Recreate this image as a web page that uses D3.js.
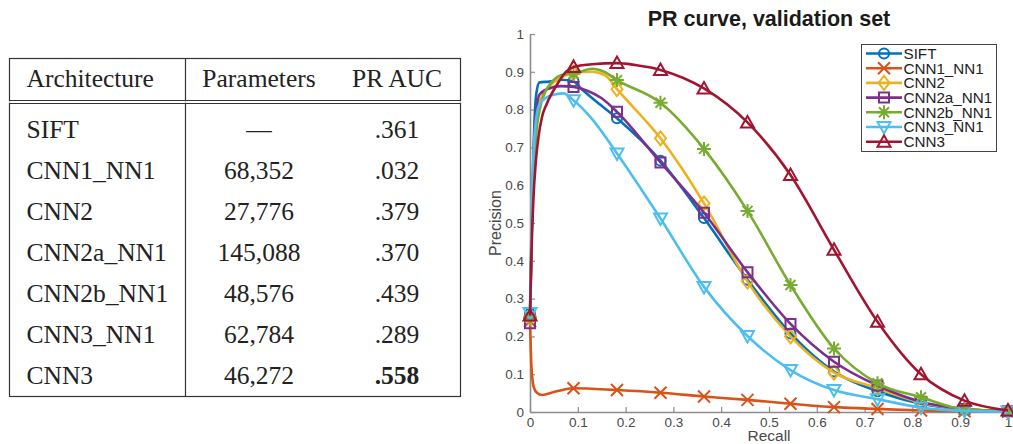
<!DOCTYPE html>
<html>
<head>
<meta charset="utf-8">
<script src="https://cdn.jsdelivr.net/npm/d3@7"></script>
<style>
  body { margin: 0; background: #fff; }
  svg { display: block; }
</style>
</head>
<body>
<svg id="fig" width="1013" height="444"></svg>
<script>
// ---- table data
const architectures = ['SIFT', 'CNN1_NN1', 'CNN2', 'CNN2a_NN1', 'CNN2b_NN1', 'CNN3_NN1', 'CNN3'];
const parameters = ['\u2014', '68,352', '27,776', '145,088', '48,576', '62,784', '46,272'];
const prAuc = [0.361, 0.032, 0.379, 0.370, 0.439, 0.289, 0.558];
const headers = ['Architecture', 'Parameters', 'PR AUC'];

// ---- PR curves (recall where the markers sit, precision)
const markerRecall = [0, 0.091, 0.182, 0.273, 0.364, 0.455, 0.545, 0.636, 0.727, 0.818, 0.909, 1];

const siftMarks   = [0.26, 0.875, 0.777, 0.665, 0.513, 0.35, 0.208, 0.107, 0.055, 0.022, 0.007, 0.002];
const cnn1Marks   = [0.24, 0.063, 0.058, 0.051, 0.041, 0.032, 0.022, 0.013, 0.008, 0.004, 0.002, 0.001];
const cnn2Marks   = [0.25, 0.897, 0.854, 0.724, 0.552, 0.345, 0.2, 0.104, 0.063, 0.025, 0.007, 0.002];
const cnn2aMarks  = [0.235, 0.86, 0.794, 0.66, 0.527, 0.37, 0.233, 0.133, 0.07, 0.027, 0.008, 0.002];
const cnn2bMarks  = [0.25, 0.895, 0.878, 0.818, 0.696, 0.532, 0.336, 0.168, 0.076, 0.039, 0.007, 0.002];
const cnn3nnMarks = [0.262, 0.825, 0.684, 0.512, 0.331, 0.201, 0.111, 0.058, 0.034, 0.012, 0.003, 0.001];
const cnn3Marks   = [0.255, 0.913, 0.923, 0.905, 0.856, 0.766, 0.627, 0.429, 0.239, 0.10, 0.03, 0.004];

// points between the markers (mostly the steep start)
const siftExtra   = [[0.004, 0.5], [0.008, 0.72], [0.013, 0.84], [0.02, 0.872], [0.04, 0.874], [0.065, 0.879], [0.105, 0.858], [0.14, 0.82]];
const cnn1Extra   = [[0.003, 0.12], [0.008, 0.065], [0.015, 0.05], [0.025, 0.045], [0.05, 0.053], [0.07, 0.059]];
const cnn2Extra   = [[0.004, 0.55], [0.01, 0.74], [0.02, 0.82], [0.04, 0.86], [0.065, 0.885], [0.13, 0.9], [0.158, 0.89]];
const cnn2aExtra  = [[0.004, 0.5], [0.01, 0.75], [0.02, 0.84], [0.04, 0.856], [0.065, 0.862], [0.12, 0.85], [0.15, 0.83]];
const cnn2bExtra  = [[0.004, 0.5], [0.012, 0.72], [0.022, 0.81], [0.032, 0.847], [0.045, 0.872], [0.07, 0.893], [0.13, 0.908], [0.155, 0.9]];
const cnn3nnExtra = [[0.004, 0.55], [0.01, 0.74], [0.02, 0.815], [0.045, 0.838], [0.07, 0.843], [0.13, 0.775]];
const cnn3Extra   = [[0.003, 0.42], [0.007, 0.56], [0.012, 0.66], [0.018, 0.73], [0.025, 0.78], [0.035, 0.815], [0.056, 0.865], [0.075, 0.9], [0.13, 0.92], [0.22, 0.918]];

const seriesColors = ['#0072BD', '#D95319', '#EDB120', '#7E2F8E', '#77AC30', '#4DBEEE', '#A2142F'];
const seriesMarkers = ['circle', 'x', 'diamond', 'square', 'star', 'tridown', 'triup'];
const yTicks = [0, 0.1, 0.2, 0.3, 0.4, 0.5, 0.6, 0.7, 0.8, 0.9, 1];
const xTicks = [0, 0.1, 0.2, 0.3, 0.4, 0.5, 0.6, 0.7, 0.8, 0.9, 1];

const svg = d3.select('#fig');
svg.append('rect').attr('width', 1013).attr('height', 444).attr('fill', 'white');

// ================= table =================
const tbl = svg.append('g').attr('class', 'table');
const tLeft = 9.5, tRight = 460.5, tTop = 58.5, tBottom = 396.5, colSep = 185.5;
const lineCol = '#333';

tbl.append('rect')
  .attr('x', tLeft).attr('y', tTop)
  .attr('width', tRight - tLeft).attr('height', tBottom - tTop)
  .attr('fill', 'none').attr('stroke', lineCol).attr('stroke-width', 1.2);
tbl.append('line').attr('x1', colSep).attr('x2', colSep).attr('y1', tTop).attr('y2', tBottom)
  .attr('stroke', lineCol).attr('stroke-width', 1.2);
[100.5, 103.5].forEach(yy => {
  tbl.append('line').attr('x1', tLeft).attr('x2', tRight).attr('y1', yy).attr('y2', yy)
    .attr('stroke', lineCol).attr('stroke-width', 1.1);
});
tbl.append('rect').attr('x', tLeft - 1).attr('y', 101.3).attr('width', tRight - tLeft + 2).attr('height', 1.4)
  .attr('fill', 'white');

const colX = [26.5, 259, 397];
const colAnchor = ['start', 'middle', 'middle'];
const serif = '"Liberation Serif", "DejaVu Serif", serif';

tbl.selectAll('text.head')
  .data(headers)
  .enter().append('text')
  .attr('class', 'head')
  .attr('x', (d, i) => colX[i])
  .attr('y', 87)
  .attr('text-anchor', (d, i) => colAnchor[i])
  .attr('font-family', serif).attr('font-size', 25.5).attr('fill', '#222')
  .text(d => d);

const bestAuc = d3.max(prAuc);
const aucFmt = v => d3.format('.3f')(v).replace(/^0/, '');

const rows = tbl.selectAll('g.row')
  .data(architectures)
  .enter().append('g')
  .attr('class', 'row')
  .attr('transform', (d, i) => 'translate(0,' + (137.5 + i * 41) + ')');

rows.append('text')
  .attr('x', colX[0]).attr('font-family', serif).attr('font-size', 25.5).attr('fill', '#222')
  .text(d => d);
rows.append('text')
  .attr('x', colX[1]).attr('text-anchor', 'middle')
  .attr('font-family', serif).attr('font-size', 25.5).attr('fill', '#222')
  .text((d, i) => parameters[i]);
rows.append('text')
  .attr('x', colX[2]).attr('text-anchor', 'middle')
  .attr('font-family', serif).attr('font-size', 25.5).attr('fill', '#222')
  .attr('font-weight', (d, i) => prAuc[i] === bestAuc ? 'bold' : 'normal')
  .text((d, i) => aucFmt(prAuc[i]));

// ================= PR chart =================
const x = d3.scaleLinear().domain([0, 1]).range([530, 1008]);
const y = d3.scaleLinear().domain([0, 1]).range([412, 34]);
const sans = '"Liberation Sans", Arial, Helvetica, sans-serif';
const axisCol = '#8c8c8c';

const chart = svg.append('g').attr('class', 'chart');

const xAxis = chart.append('g')
  .attr('transform', 'translate(0,' + y(0) + ')')
  .call(d3.axisBottom(x).tickValues(xTicks).tickFormat(d3.format('~g'))
    .tickSizeInner(-5).tickSizeOuter(0).tickPadding(5));
const yAxis = chart.append('g')
  .attr('transform', 'translate(' + x(0) + ',0)')
  .call(d3.axisLeft(y).tickValues(yTicks).tickFormat(d3.format('~g'))
    .tickSizeInner(-5).tickSizeOuter(0).tickPadding(6));

[xAxis, yAxis].forEach(ax => {
  ax.select('.domain').attr('stroke', axisCol).attr('stroke-width', 1.6);
  ax.selectAll('.tick line').attr('stroke', axisCol).attr('stroke-width', 1.2);
  ax.selectAll('.tick text').attr('fill', '#4a4a4a').attr('font-family', sans).attr('font-size', 13.5);
});

chart.append('text')
  .attr('x', (x(0) + x(1)) / 2).attr('y', 26)
  .attr('text-anchor', 'middle')
  .attr('font-family', sans).attr('font-weight', 'bold').attr('font-size', 21.5).attr('fill', '#1a1a1a')
  .text('PR curve, validation set');
chart.append('text')
  .attr('x', (x(0) + x(1)) / 2).attr('y', 440.5)
  .attr('text-anchor', 'middle')
  .attr('font-family', sans).attr('font-size', 15.5).attr('fill', '#4a4a4a')
  .text('Recall');
chart.append('text')
  .attr('transform', 'translate(501,' + ((y(0) + y(1)) / 2) + ') rotate(-90)')
  .attr('text-anchor', 'middle')
  .attr('font-family', sans).attr('font-size', 16).attr('fill', '#4a4a4a')
  .text('Precision');

// marker shapes in pixels
function markerPath(type) {
  switch (type) {
    case 'circle': return 'M5,0A5,5 0 1,1 -5,0A5,5 0 1,1 5,0Z';
    case 'x': return 'M-6,-6L6,6M-6,6L6,-6';
    case 'diamond': return 'M0,-7L5.5,0L0,7L-5.5,0Z';
    case 'square': return 'M-5,-5H5V5H-5Z';
    case 'star': return 'M-7,0H7M0,-7V7M-5,-5L5,5M-5,5L5,-5';
    case 'tridown': return 'M-6.5,-5H6.5L0,6.5Z';
    case 'triup': return 'M-6.5,5H6.5L0,-6.5Z';
  }
}

const allMarks = [siftMarks, cnn1Marks, cnn2Marks, cnn2aMarks, cnn2bMarks, cnn3nnMarks, cnn3Marks];
const allExtra = [siftExtra, cnn1Extra, cnn2Extra, cnn2aExtra, cnn2bExtra, cnn3nnExtra, cnn3Extra];

const series = architectures.map((name, i) => {
  const marks = markerRecall.map((r, j) => [r, allMarks[i][j]]);
  const pts = marks.concat(allExtra[i]).sort((a, b) => a[0] - b[0]);
  return { name: name, color: seriesColors[i], marker: seriesMarkers[i], marks: marks, pts: pts };
});

const line = d3.line()
  .x(d => x(d[0]))
  .y(d => y(d[1]))
  .curve(d3.curveMonotoneX);

const plot = chart.append('g').attr('class', 'curves');
const sg = plot.selectAll('g.series')
  .data(series)
  .enter().append('g')
  .attr('class', 'series');

sg.append('path')
  .attr('d', d => line(d.pts))
  .attr('fill', 'none')
  .attr('stroke', d => d.color)
  .attr('stroke-width', 2.6)
  .attr('stroke-linejoin', 'round');

sg.each(function(d) {
  d3.select(this).selectAll('path.mk')
    .data(d.marks)
    .enter().append('path')
    .attr('class', 'mk')
    .attr('transform', p => 'translate(' + x(p[0]) + ',' + y(p[1]) + ')')
    .attr('d', markerPath(d.marker))
    .attr('fill', 'none')
    .attr('stroke', d.color)
    .attr('stroke-width', 2);
});

// legend
const legend = chart.append('g').attr('class', 'legend');
legend.append('rect')
  .attr('x', 861.5).attr('y', 44.5).attr('width', 135).attr('height', 107)
  .attr('fill', 'white').attr('stroke', '#444').attr('stroke-width', 1);

const li = legend.selectAll('g.item')
  .data(series)
  .enter().append('g')
  .attr('class', 'item')
  .attr('transform', (d, i) => 'translate(0,' + (53.5 + i * 14.7) + ')');
li.append('line')
  .attr('x1', 866).attr('x2', 902).attr('y1', 0).attr('y2', 0)
  .attr('stroke', d => d.color).attr('stroke-width', 2.6);
li.append('path')
  .attr('transform', 'translate(884,0)')
  .attr('d', d => markerPath(d.marker))
  .attr('fill', 'none').attr('stroke', d => d.color).attr('stroke-width', 2);
li.append('text')
  .attr('x', 903.5).attr('dy', '0.36em')
  .attr('font-family', sans).attr('font-size', 15.2).attr('fill', '#222')
  .text(d => d.name);
</script>
</body>
</html>
